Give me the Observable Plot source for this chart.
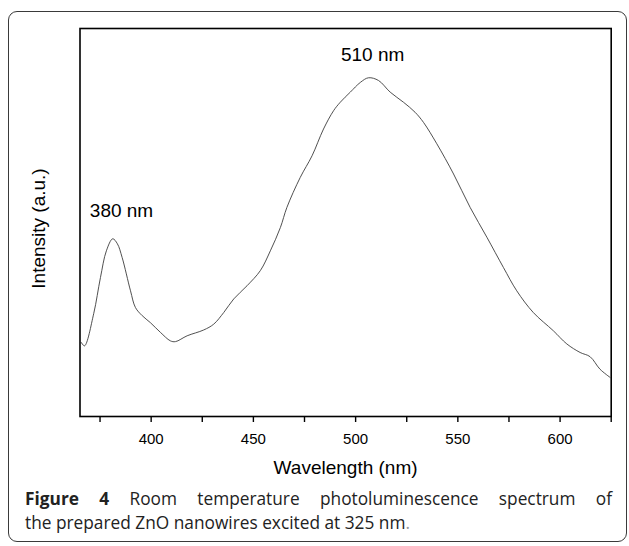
<!DOCTYPE html>
<html>
<head>
<meta charset="utf-8">
<script src="https://cdn.jsdelivr.net/npm/d3@7"></script>
<script src="https://cdn.jsdelivr.net/npm/@observablehq/plot@0.6"></script>
<style>
  html, body { margin: 0; padding: 0; background: #fff; overflow: hidden; }
  body { width: 629px; height: 546px; position: relative; }
  #border { position: absolute; left: 8px; top: 11px; width: 617px; height: 529px;
            border: 1.6px solid #3a3a3a; border-radius: 9px; box-sizing: content-box; }
  #chart { position: absolute; left: 0; top: 0; }
  #caption { position: absolute; left: 25px; top: 487px; width: 587px;
             font-family: "Open Sans", Lato, sans-serif; font-size: 17.3px; line-height: 24px;
             color: #222; white-space: nowrap; }
  #caption .l1 { text-align: justify; text-align-last: justify; }
  #caption .l2 { text-align: left; }
  #caption b { font-weight: 700; }
  #caption .dot { color: #999; }
</style>
</head>
<body>
<div id="border"></div>
<div id="chart"></div>
<div id="caption">
  <div class="l1"><b>Figure 4</b> Room temperature photoluminescence spectrum of</div>
  <div class="l2">the prepared ZnO nanowires excited at 325 nm<span class="dot">.</span></div>
</div>
<script>
// Wavelength (nm) and intensity (a.u., 0–100 of the frame height)
const wavelength = [365.8, 367.4, 371.9, 375.2, 378.1, 381.2, 383.5, 385.8, 389.9, 392.3,
  395.6, 399.6, 404.5, 409.4, 411.9, 417.6, 425.7, 430.6, 435.5, 440.4,
  446.9, 453.4, 458.3, 463.2, 466.4, 472.9, 478.7, 484.3, 489.2, 492.5,
  497.4, 502.3, 506.3, 511.2, 516.9, 523.4, 529.1, 533.2, 539.7, 547.9,
  556.0, 564.2, 572.3, 578.8, 586.9, 596.7, 603.3, 609.8, 614.7, 619.5, 624.4];
const intensity = [19.1, 18.2, 26.5, 35.8, 42.7, 45.8, 44.5, 41.0, 32.4, 28.1,
  26.0, 24.2, 21.7, 19.5, 19.3, 20.8, 22.3, 23.8, 26.8, 30.3,
  33.7, 37.6, 42.7, 48.7, 53.9, 61.6, 67.2, 74.1, 78.8, 81.0,
  83.6, 86.1, 87.3, 86.6, 83.6, 81.0, 78.4, 75.8, 70.3, 62.5,
  53.9, 46.2, 38.4, 32.4, 26.8, 22.1, 18.7, 16.5, 15.4, 12.2, 10.1];

const xTicks = [375, 400, 425, 450, 475, 500, 525, 550, 575, 600, 625];
const xTickLabels = [400, 450, 500, 550, 600];

const peakLabels = ["380 nm", "510 nm"];
const peakLabelX = [385.5, 508.3];
const peakLabelY = [52.9, 93.3];

const xLabel = "Wavelength (nm)";
const yLabel = "Intensity (a.u.)";

const spectrum = wavelength.map((w, i) => ({w, v: intensity[i]}));
const peaks = peakLabels.map((t, i) => ({t, x: peakLabelX[i], y: peakLabelY[i]}));

const chart = Plot.plot({
  width: 629,
  height: 480,
  marginLeft: 79.5,
  marginRight: 18.3,
  marginTop: 28,
  marginBottom: 64,
  style: {fontFamily: "'Liberation Sans', Arial, sans-serif", fontSize: "15px", color: "#000", background: "transparent", overflow: "visible"},
  x: {domain: [365.2, 625], axis: null},
  y: {domain: [0, 100], axis: null},
  marks: [
    Plot.axisX({ticks: xTicks, tickSize: 6, tickPadding: 11, strokeWidth: 1.4,
      tickFormat: d => xTickLabels.includes(d) ? String(d) : "", label: null, fontSize: 15}),
    Plot.line(spectrum, {x: "w", y: "v", stroke: "#3c3c3c", strokeWidth: 0.9, curve: "catmull-rom"}),
    Plot.text(peaks, {x: "x", y: "y", text: "t", fontSize: 19, fill: "#000"}),
    Plot.text([xLabel], {frameAnchor: "bottom", dy: 51, lineAnchor: "middle", textAnchor: "middle", fontSize: 19, fill: "#000"}),
    Plot.text([yLabel], {frameAnchor: "left", dx: -41, dy: 6, textAnchor: "middle", lineAnchor: "middle", rotate: -90, fontSize: 19, fill: "#000"}),
    Plot.frame({stroke: "#000", strokeWidth: 1.6})
  ]
});
document.getElementById("chart").appendChild(chart);
</script>
</body>
</html>
